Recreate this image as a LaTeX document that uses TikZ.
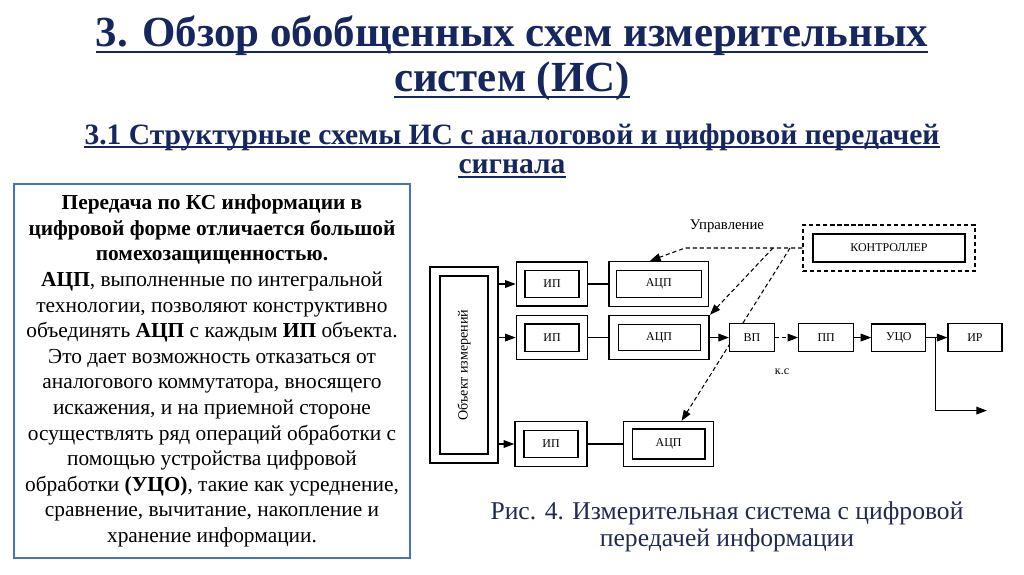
\documentclass[tikz,border=0pt]{standalone}
\usepackage{fontspec}
\setmainfont{Liberation Serif}[Ligatures=TeX]
\usetikzlibrary{arrows.meta,positioning,backgrounds}
\definecolor{titleblue}{RGB}{22,38,94}
\definecolor{frameblue}{RGB}{68,114,196}
\definecolor{capblue}{RGB}{33,43,82}

\begin{document}
\begin{tikzpicture}[
        x=0.025cm, y=-0.025cm,
        >={Triangle[length=7.5pt,width=5.5pt]},
        every node/.style={font=\fontsize{8.5}{10}\selectfont, inner sep=0pt},
        outerbox/.style={draw, line width=1.1pt},
        innerbox/.style={draw, line width=0.8pt, fill=white},
        link/.style={line width=0.75pt},
        ctl/.style={line width=0.75pt, dash pattern=on 3pt off 2pt},
        ttl/.style={font=\fontsize{30.5}{36}\selectfont\bfseries, text=titleblue, anchor=base},
        subttl/.style={font=\fontsize{21}{25}\selectfont\bfseries, text=titleblue, anchor=base},
        uline/.style={draw=titleblue, line width=#1},
        textframe/.style={draw=frameblue, line width=2pt, minimum width=9.9cm, minimum height=9.35cm,
            align=center, font=\fontsize{15.2}{18.2}\selectfont},
        captext/.style={align=center, text=capblue, font=\fontsize{18.2}{19.5}\selectfont}
        ]
        \useasboundingbox (0,0) rectangle (1024,574);

        % Headings
        \node[ttl]    (t1) at (512,46)    {3. Обзор обобщенных схем измерительных};
        \node[ttl]    (t2) at (512,91)    {систем (ИС)};
        \node[subttl] (s1) at (512,144)   {3.1 Структурные схемы ИС с аналоговой и цифровой передачей};
        \node[subttl] (s2) at (512,173.5) {сигнала};
        \draw[uline=2pt]   ([yshift=-4.2pt]t1.base west) -- ([yshift=-4.2pt]t1.base east);
        \draw[uline=2pt]   ([yshift=-4.2pt]t2.base west) -- ([yshift=-4.2pt]t2.base east);
        \draw[uline=1.4pt] ([yshift=-2.3pt]s1.base west) -- ([yshift=-2.3pt]s1.base east);
        \draw[uline=1.4pt] ([yshift=-2.3pt]s2.base west) -- ([yshift=-2.3pt]s2.base east);

        % Text frame
        \node[textframe] (info) at (212,371) {%
            \textbf{Передача по КС информации в}\\
            \textbf{цифровой форме отличается большой}\\
            \textbf{помехозащищенностью.}\\
            \textbf{АЦП}, выполненные по интегральной\\
            технологии, позволяют конструктивно\\
            объединять \textbf{АЦП} с каждым \textbf{ИП} объекта.\\
            Это дает возможность отказаться от\\
            аналогового коммутатора, вносящего\\
            искажения, и на приемной стороне\\
            осуществлять ряд операций обработки с\\
            помощью устройства цифровой\\
            обработки \textbf{(УЦО)}, такие как усреднение,\\
            сравнение, вычитание, накопление и\\
            хранение информации.};

        % Object and channels
        \node[outerbox, minimum width=1.7cm, minimum height=4.9cm] (obj) at (464,365) {};
        \node[innerbox, rotate=90, minimum width=4.45cm, minimum height=1.2cm,
            font=\fontsize{10}{12}\selectfont] (objin) at (obj) {Объект измерений};
        \node[outerbox, minimum width=1.78cm, minimum height=1.1cm] (ip1) at (552,284) {};
        \node[outerbox, minimum width=1.78cm, minimum height=1.1cm] (ip2) [below=0.2cm of ip1] {};
        \node[outerbox, minimum width=1.8cm, minimum height=1.12cm] (ip3) at (551,444) {};
        \node[outerbox, minimum width=2.48cm, minimum height=1.12cm] (adc1) [right=0.5cm of ip1] {};
        \node[outerbox, minimum width=2.5cm, minimum height=1.1cm] (adc2) [right=0.5cm of ip2] {};
        \node[outerbox, minimum width=2.25cm, minimum height=1.12cm] (adc3) [right=0.875cm of ip3] {};
        \node[innerbox, minimum width=1.35cm, minimum height=0.68cm] (ip1in) at (ip1) {ИП};
        \node[innerbox, minimum width=1.35cm, minimum height=0.68cm] (ip2in) at (ip2) {ИП};
        \node[innerbox, minimum width=1.35cm, minimum height=0.68cm] (ip3in) at (ip3) {ИП};
        \node[innerbox, minimum width=2.12cm, minimum height=0.68cm] (adc1in) at (adc1) {АЦП};
        \node[innerbox, minimum width=2.05cm, minimum height=0.66cm] (adc2in) at (adc2) {АЦП};
        \node[innerbox, minimum width=1.82cm, minimum height=0.75cm] (adc3in) at (adc3) {АЦП};

        % Receiving side
        \node[innerbox, minimum width=1.125cm, minimum height=0.7cm] (vp) [right=0.475cm of adc2] {ВП};
        \node[innerbox, minimum width=1.375cm, minimum height=0.7cm] (pp) [right=0.575cm of vp] {ПП};
        \node[innerbox, minimum width=1.35cm, minimum height=0.68cm] (uco) [right=0.425cm of pp] {УЦО};
        \node[innerbox, minimum width=1.35cm, minimum height=0.7cm] (ir) [right=0.525cm of uco] {ИР};
        \node (ks) at (782,372) {к.с};

        % Controller
        \node[draw, line width=1pt, dash pattern=on 3pt off 2pt, minimum width=4.3cm,
            minimum height=1.15cm] (ctrl) at (889,248) {};
        \node[innerbox, minimum width=3.8cm, minimum height=0.7cm] (ctrlin) at (ctrl) {КОНТРОЛЛЕР};
        \node[font=\fontsize{10.5}{12}\selectfont] (upr) at (727,226) {Управление};
        \coordinate (cl) at (685,248);
        \coordinate (c1) at (773,248);
        \coordinate (c2) at (790,248);

        % Signal lines
        \draw[link, ->] (ip1.west -| obj.east) -- (ip1.west);
        \draw[link, ->] (ip2.west -| obj.east) -- (ip2.west);
        \draw[link, ->] (ip3.west -| obj.east) -- (ip3.west);
        \draw[link] (ip1) -- (adc1);
        \draw[link] (ip2) -- (adc2);
        \draw[link] (ip3) -- (adc3);
        \draw[link, ->] (adc2) -- (vp);
        \draw[ctl, ->]  (vp) -- (pp);
        \draw[link, ->] (pp) -- (uco);
        \draw[link, ->] (uco) -- coordinate[pos=0.45] (br) (ir);
        \coordinate[below right=1.825cm and 1.275cm of br] (out);
        \draw[link, ->] (br) |- (out);

        % Control lines
        \draw[ctl, ->] (ctrl.west) -- (cl) -- ([xshift=-0.22cm]adc1.north);
        \draw[ctl, ->] (c1) -- (adc2.north east);
        \begin{scope}[on background layer]
            \draw[ctl, ->] (c2) -- ([xshift=0.325cm]adc3.north);
        \end{scope}

        % Caption
        \node[captext] (cap) at (727,527) {Рис. 4. Измерительная система с цифровой\\передачей информации};
      \end{tikzpicture}
\end{document}
